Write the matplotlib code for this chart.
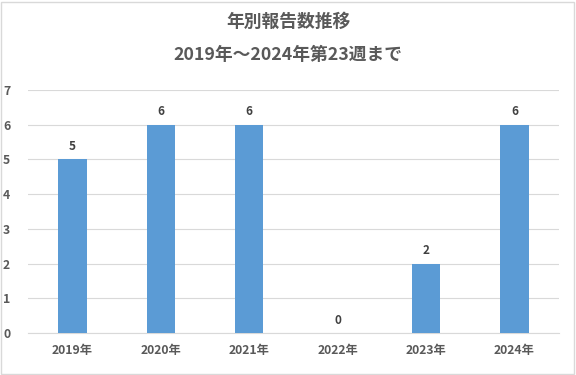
import matplotlib
matplotlib.use("Agg")
import matplotlib.pyplot as plt
from matplotlib.patches import Rectangle

plt.rcParams["font.family"] = ["Noto Sans CJK JP", "DejaVu Sans"]

# data
years = ["2019年", "2020年", "2021年", "2022年", "2023年", "2024年"]
reports = [5, 6, 6, 0, 2, 6]
title_lines = ["年別報告数推移", "2019年～2024年第23週まで"]

text_color = "#595959"
bar_color = "#5b9bd5"
grid_color = "#d9d9d9"

fig = plt.figure(figsize=(5.76, 3.75), dpi=100)
ax = fig.add_axes([0.049, 0.112, 0.921, 0.648])

x = range(len(years))
bars = ax.bar(x, reports, width=0.32, color=bar_color, zorder=3)

for xi, v in zip(x, reports):
    ax.text(xi, v + 0.18, str(v), ha="center", va="bottom",
            fontsize=8.5, fontweight="bold", color="#404040")

ax.set_xlim(-0.5, len(years) - 0.5)
ax.set_ylim(0, 7)
ax.set_yticks(range(0, 8))
ax.set_xticks(list(x))
ax.set_xticklabels(years)
ax.yaxis.grid(True, color=grid_color, linewidth=0.8, zorder=0)
ax.tick_params(axis="both", length=0, labelsize=8.8, labelcolor=text_color)
ax.tick_params(axis="x", pad=8)
ax.tick_params(axis="y", pad=13)
for lbl in ax.get_xticklabels() + ax.get_yticklabels():
    lbl.set_fontweight("bold")
for side in ["top", "right", "left"]:
    ax.spines[side].set_visible(False)
ax.spines["bottom"].set_color(grid_color)
ax.spines["bottom"].set_linewidth(0.8)

fig.text(0.5, 0.941, title_lines[0], ha="center", va="center",
         fontsize=12.8, fontweight="bold", color=text_color)
fig.text(0.5, 0.853, title_lines[1], ha="center", va="center",
         fontsize=12.8, fontweight="bold", color=text_color)

# chart border
fig.patches.append(Rectangle((0.002, 0.003), 0.995, 0.993, transform=fig.transFigure,
                             fill=False, edgecolor="#d9d9d9", linewidth=1))

fig.savefig("out.png", dpi=100)
